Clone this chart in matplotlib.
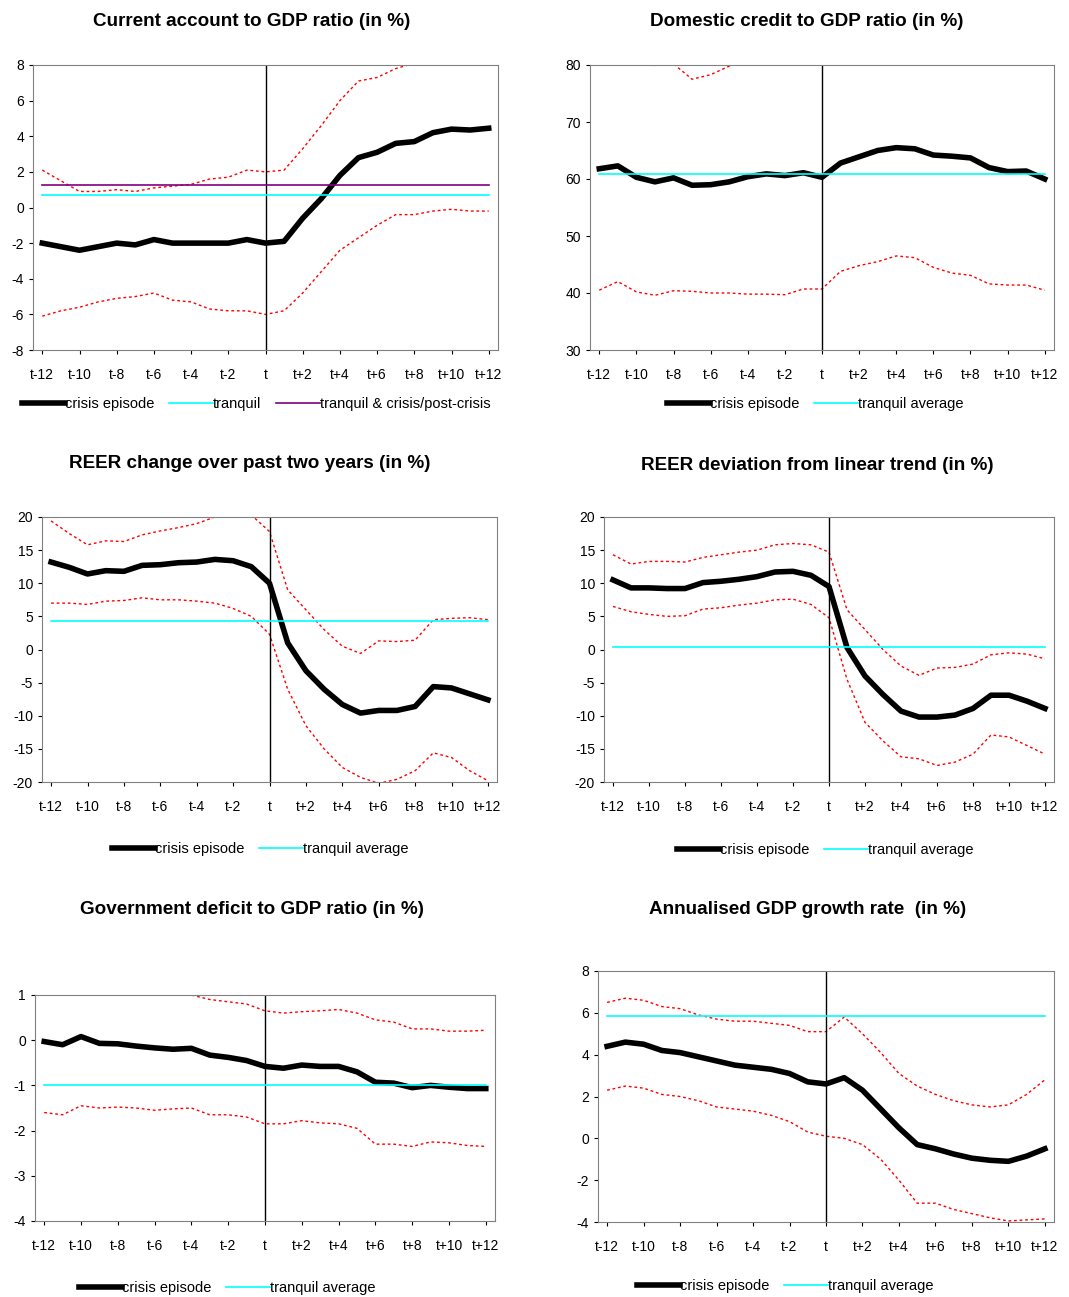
import numpy as np
import matplotlib
matplotlib.use("Agg")
import matplotlib.pyplot as plt

plt.rcParams['font.family'] = ['Liberation Sans', 'DejaVu Sans']
plt.rcParams['axes.unicode_minus'] = False

W, H = 1069, 1297
labels = ['t-12', 't-10', 't-8', 't-6', 't-4', 't-2', 't', 't+2', 't+4', 't+6', 't+8', 't+10', 't+12']
x = np.arange(-12, 13)

# Current account
ca_crisis = [-2.0, -2.2, -2.4, -2.2, -2.0, -2.1, -1.8, -2.0, -2.0, -2.0, -2.0, -1.8, -2.0, -1.9, -0.6, 0.5, 1.8, 2.8, 3.1, 3.6, 3.7, 4.2, 4.4, 4.35, 4.45]
ca_upper = [2.1, 1.5, 0.9, 0.9, 1.0, 0.9, 1.1, 1.2, 1.3, 1.6, 1.7, 2.1, 2.0, 2.1, 3.3, 4.6, 6.0, 7.1, 7.3, 7.8, 8.1, 8.4, 8.7, 8.9, 9.0]
ca_lower = [-6.1, -5.8, -5.6, -5.3, -5.1, -5.0, -4.8, -5.2, -5.3, -5.7, -5.8, -5.8, -6.0, -5.8, -4.8, -3.6, -2.4, -1.7, -1.0, -0.4, -0.4, -0.2, -0.1, -0.2, -0.2]
ca_tranquil = 0.7
ca_combined = 1.25

# Domestic credit
dc_crisis = [61.8, 62.3, 60.3, 59.5, 60.2, 58.9, 59.0, 59.5, 60.4, 60.9, 60.6, 61.1, 60.3, 62.8, 63.9, 65.0, 65.5, 65.3, 64.2, 64.0, 63.7, 62.0, 61.3, 61.4, 60.0]
dc_upper = [83.0, 82.0, 80.5, 79.9, 80.2, 77.5, 78.3, 79.8, 81.5, 83.0, 84.0, 85.0, 86.0, 87.0, 88.0, 89.0, 90.0, 90.0, 89.0, 88.0, 88.0, 87.0, 86.0, 86.0, 85.0]
dc_lower = [40.5, 42.0, 40.2, 39.6, 40.4, 40.3, 40.0, 40.0, 39.8, 39.8, 39.7, 40.7, 40.7, 43.8, 44.8, 45.5, 46.5, 46.2, 44.5, 43.5, 43.1, 41.6, 41.4, 41.4, 40.5]
dc_tranquil = 60.8

# REER change
rc_crisis = [13.2, 12.4, 11.4, 11.9, 11.8, 12.7, 12.8, 13.1, 13.2, 13.6, 13.4, 12.5, 10.0, 1.0, -3.2, -6.0, -8.3, -9.6, -9.2, -9.2, -8.6, -5.6, -5.8, -6.7, -7.6]
rc_upper = [19.4, 17.5, 15.8, 16.4, 16.3, 17.3, 17.9, 18.4, 19.0, 20.0, 20.5, 20.3, 17.8, 9.0, 6.0, 3.0, 0.5, -0.6, 1.3, 1.2, 1.4, 4.5, 4.7, 4.8, 4.5]
rc_lower = [7.0, 7.0, 6.8, 7.3, 7.4, 7.8, 7.5, 7.5, 7.3, 7.0, 6.2, 5.0, 2.3, -6.0, -11.5, -15.0, -17.8, -19.3, -20.2, -19.6, -18.3, -15.6, -16.3, -18.3, -19.8]
rc_tranquil = 4.3

# REER deviation
rd_crisis = [10.5, 9.3, 9.3, 9.2, 9.2, 10.1, 10.3, 10.6, 11.0, 11.7, 11.8, 11.2, 9.5, 0.3, -4.0, -6.8, -9.3, -10.2, -10.2, -9.9, -8.9, -6.9, -6.9, -7.8, -8.9]
rd_upper = [14.3, 12.9, 13.3, 13.3, 13.2, 13.9, 14.3, 14.7, 15.0, 15.8, 16.0, 15.8, 14.7, 6.0, 3.0, 0.0, -2.5, -3.9, -2.8, -2.7, -2.2, -0.8, -0.5, -0.7, -1.4]
rd_lower = [6.5, 5.7, 5.3, 5.0, 5.1, 6.1, 6.3, 6.7, 7.0, 7.5, 7.6, 6.8, 4.8, -4.5, -11.0, -13.8, -16.2, -16.5, -17.5, -17.0, -15.8, -12.9, -13.2, -14.5, -15.8]
rd_tranquil = 0.4

# Government deficit
gd_crisis = [-0.03, -0.1, 0.08, -0.07, -0.08, -0.13, -0.17, -0.2, -0.18, -0.33, -0.38, -0.45, -0.58, -0.62, -0.55, -0.58, -0.58, -0.7, -0.93, -0.95, -1.05, -1.0, -1.04, -1.07, -1.07]
gd_upper = [1.5, 1.4, 1.4, 1.3, 1.2, 1.1, 1.05, 1.0, 1.0, 0.9, 0.85, 0.8, 0.65, 0.6, 0.63, 0.65, 0.68, 0.6, 0.45, 0.4, 0.25, 0.25, 0.2, 0.2, 0.22]
gd_lower = [-1.6, -1.65, -1.45, -1.5, -1.48, -1.5, -1.55, -1.52, -1.5, -1.65, -1.65, -1.7, -1.85, -1.85, -1.78, -1.83, -1.85, -1.95, -2.3, -2.3, -2.35, -2.25, -2.27, -2.33, -2.35]
gd_tranquil = -1.0

# GDP growth
gg_crisis = [4.4, 4.6, 4.5, 4.2, 4.1, 3.9, 3.7, 3.5, 3.4, 3.3, 3.1, 2.7, 2.6, 2.9, 2.3, 1.4, 0.5, -0.3, -0.5, -0.75, -0.95, -1.05, -1.1, -0.85, -0.5]
gg_upper = [6.5, 6.7, 6.6, 6.3, 6.2, 5.9, 5.7, 5.6, 5.6, 5.5, 5.4, 5.1, 5.1, 5.8, 5.0, 4.1, 3.1, 2.5, 2.1, 1.8, 1.6, 1.5, 1.6, 2.1, 2.8]
gg_lower = [2.3, 2.5, 2.4, 2.1, 2.0, 1.8, 1.5, 1.4, 1.3, 1.1, 0.8, 0.3, 0.1, 0.0, -0.3, -1.0, -2.0, -3.1, -3.1, -3.4, -3.6, -3.8, -3.95, -3.9, -3.85]
gg_tranquil = 5.85

fig = plt.figure(figsize=(W / 100, H / 100), dpi=100)


def panel(box, title, title_xy, crisis, upper, lower, tranquil, ylim, step,
          legend_xy, combined=None, tranq_label='tranquil average'):
    l, t, r, b = box
    ax = fig.add_axes([l / W, 1 - b / H, (r - l) / W, (b - t) / H])
    ax.plot(x, upper, color='red', ls=(0, (2, 2)), lw=1)
    ax.plot(x, lower, color='red', ls=(0, (2, 2)), lw=1)
    ax.axvline(0, color='black', lw=1)
    h1, = ax.plot(x, crisis, color='black', lw=4, label='crisis episode')
    h2 = ax.axhline(tranquil, xmin=0.5 / 25, xmax=24.5 / 25, color='cyan', lw=1.2, label=tranq_label)
    handles = [h1, h2]
    if combined is not None:
        h3 = ax.axhline(combined, xmin=0.5 / 25, xmax=24.5 / 25, color='purple', lw=1.2,
                        label='tranquil & crisis/post-crisis')
        handles.append(h3)
    ax.set_xlim(-12.5, 12.5)
    ax.set_ylim(*ylim)
    ax.set_yticks(np.arange(ylim[0], ylim[1] + step / 2, step))
    ax.set_xticks(x[::2])
    ax.set_xticklabels(labels)
    ax.tick_params(labelsize=10, length=3)
    ax.tick_params(axis='x', pad=10)
    for s in ax.spines.values():
        s.set_color('#808080')
    fig.text(title_xy[0] / W, 1 - title_xy[1] / H, title, ha='center', va='center',
             fontsize=13.6, fontweight='bold')
    fig.legend(handles=handles, loc='center', bbox_to_anchor=(legend_xy[0] / W, 1 - legend_xy[1] / H),
               ncol=len(handles), frameon=False, fontsize=10.5, handlelength=3.0,
               handletextpad=0.0, columnspacing=1.0)
    return ax


panel((33, 65, 498, 350), 'Current account to GDP ratio (in %)', (252, 22), ca_crisis, ca_upper, ca_lower,
      ca_tranquil, (-8, 8), 2, (256, 404), combined=ca_combined, tranq_label='tranquil')
panel((590, 65, 1054, 350), 'Domestic credit to GDP ratio (in %)', (807, 21), dc_crisis, dc_upper, dc_lower,
      dc_tranquil, (30, 80), 10, (815, 404))
panel((42, 517, 497, 782), 'REER change over past two years (in %)', (250, 464), rc_crisis, rc_upper, rc_lower,
      rc_tranquil, (-20, 20), 5, (260, 849))
panel((604, 517, 1054, 782), 'REER deviation from linear trend (in %)', (817, 466), rd_crisis, rd_upper, rd_lower,
      rd_tranquil, (-20, 20), 5, (825, 850))
panel((35, 995, 495, 1221), 'Government deficit to GDP ratio (in %)', (252, 910), gd_crisis, gd_upper, gd_lower,
      gd_tranquil, (-4, 1), 1, (227, 1288))
panel((598, 971, 1054, 1222), 'Annualised GDP growth rate  (in %)', (808, 909), gg_crisis, gg_upper, gg_lower,
      gg_tranquil, (-4, 8), 2, (785, 1286))

fig.savefig('out.png', dpi=100, facecolor='white')
